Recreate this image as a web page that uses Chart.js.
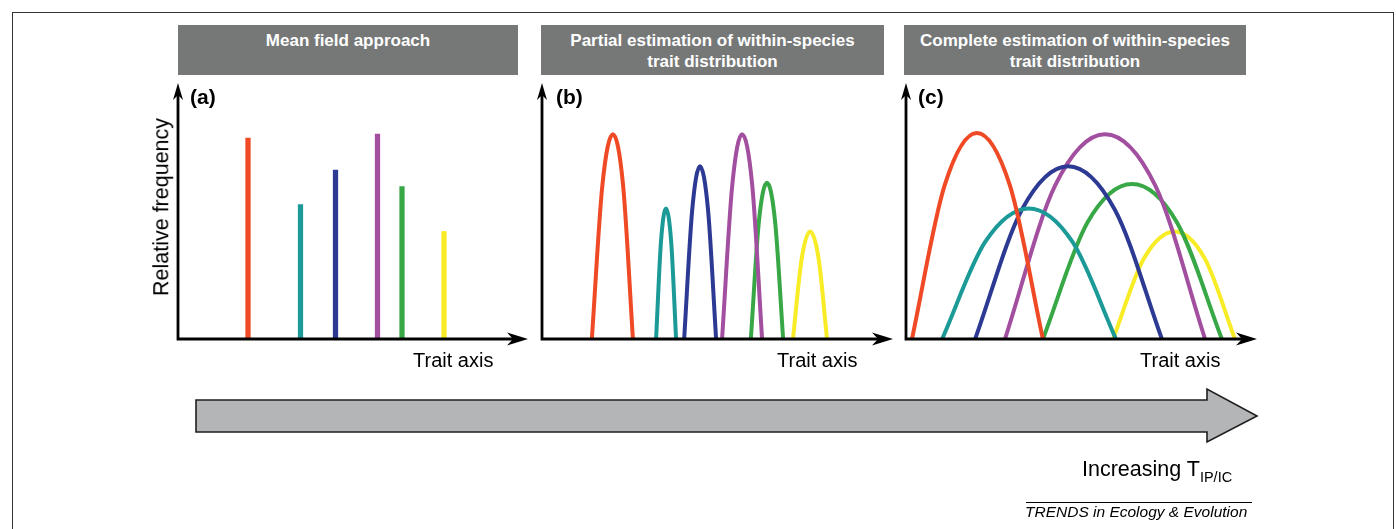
<!DOCTYPE html>
<html>
<head>
<meta charset="utf-8">
<script src="https://cdn.jsdelivr.net/npm/chart.js@4.4.1/dist/chart.umd.min.js"></script>
<style>
  body { margin: 0; width: 1396px; height: 529px; overflow: hidden; background: #fff; position: relative;
         font-family: "Liberation Sans", Arial, Helvetica, sans-serif; }
  .frame { position: absolute; left: 12px; top: 12px; width: 1380px; height: 540px; border: 1.5px solid #333; }
  .head { position: absolute; top: 25px; height: 50px; background: #767878; color: #fff; font-weight: bold;
          font-size: 17px; line-height: 20.6px; text-align: center; box-sizing: border-box; padding-top: 6.3px; }
  .lbl { position: absolute; white-space: nowrap; color: #000; line-height: 1; }
  .tag { font-weight: bold; font-size: 21px; top: 86px; }
  .trait { font-size: 20px; top: 350px; }
  canvas { position: absolute; }
</style>
</head>
<body>
<div class="frame"></div>

<div class="head" style="left:178px;width:340px;">Mean field approach</div>
<div class="head" style="left:541px;width:343px;">Partial estimation of within-species<br>trait distribution</div>
<div class="head" style="left:904px;width:342px;">Complete estimation of within-species<br>trait distribution</div>

<canvas id="chartA" width="372" height="282" style="left:168px;top:70px;"></canvas>
<canvas id="chartB" width="373" height="282" style="left:532px;top:70px;"></canvas>
<canvas id="chartC" width="373" height="282" style="left:896px;top:70px;"></canvas>

<div class="lbl tag" style="left:190px;">(a)</div>
<div class="lbl tag" style="left:556px;">(b)</div>
<div class="lbl tag" style="left:918px;">(c)</div>

<div class="lbl" style="left:162px;top:207px;font-size:21.5px;transform:translate(-50%,-50%) rotate(-90deg);">Relative frequency</div>

<div class="lbl trait" style="left:413px;">Trait axis</div>
<div class="lbl trait" style="left:777px;">Trait axis</div>
<div class="lbl trait" style="left:1140px;">Trait axis</div>

<svg style="position:absolute;left:0;top:0;" width="1396" height="529">
  <polygon points="196,400 1207,400 1207,389 1257,416 1207,442 1207,432 196,432"
           fill="#b4b5b6" stroke="#1e1e1e" stroke-width="1.6" stroke-linejoin="miter"/>
</svg>

<div class="lbl" style="left:1082px;top:459px;font-size:21.5px;">Increasing T<span style="font-size:14.5px;position:relative;top:6px;">IP/IC</span></div>
<div style="position:absolute;left:1026px;top:502px;width:226px;height:1.2px;background:#000;"></div>
<div class="lbl" style="left:1025px;top:504px;font-size:15.5px;font-style:italic;">TRENDS in Ecology &amp; Evolution</div>

<script>
// six species, same order in every panel
const species = ['Species 1', 'Species 2', 'Species 3', 'Species 4', 'Species 5', 'Species 6'];
const speciesColors = ['#EF4A25', '#1C9A97', '#2D3A93', '#A24F9F', '#38A846', '#F7EC25'];

// (a) mean trait value and relative frequency (axis units 0-100)
const traitMeans = [20, 35, 45, 57, 64, 76];
const meanFreq = [78.5, 52.5, 66, 80, 59.5, 42];

// (b) narrow within-species distributions: trait positions and frequencies read per curve
const partialX = [
  [14.2, 17.2, 20.2, 23.1, 25.9],
  [32.5, 33.9, 35.3, 36.8, 38.2],
  [40.5, 42.8, 45.0, 47.3, 49.6],
  [51.3, 54.2, 57.0, 59.9, 62.7],
  [59.5, 61.8, 64.1, 66.4, 68.7],
  [71.5, 74.0, 76.4, 78.8, 81.2]
];
const partialY = [
  [0, 60, 80, 60, 0],
  [0, 38, 51, 38, 0],
  [0, 50.5, 67.5, 50.5, 0],
  [0, 60, 80, 60, 0],
  [0, 46, 61, 46, 0],
  [0, 31.5, 42, 31.5, 0]
];

// (c) full within-species distributions
const completeX = [
  [1.7, 11.0, 20.2, 29.6, 39.0],
  [10.3, 22.6, 35.0, 47.4, 59.8],
  [19.7, 33.0, 46.2, 59.5, 72.9],
  [28.2, 42.5, 56.7, 71.0, 85.2],
  [39.0, 51.7, 64.4, 77.2, 90.0],
  [59.0, 67.8, 76.6, 85.1, 93.7]
];
const completeY = [
  [0, 60, 80.5, 60, 0],
  [0, 38, 51, 38, 0],
  [0, 50.5, 67.5, 50.5, 0],
  [0, 60, 80, 60, 0],
  [0, 45.5, 60.5, 45.5, 0],
  [0, 31.5, 42, 31.5, 0]
];

// black axes with arrow heads on the chart area edges
const arrowAxes = {
  id: 'arrowAxes',
  afterDatasetsDraw(chart) {
    const { ctx, chartArea: a } = chart;
    ctx.save();
    ctx.strokeStyle = '#000';
    ctx.fillStyle = '#000';
    ctx.lineWidth = 2.8;
    ctx.lineJoin = 'miter';
    ctx.beginPath();
    ctx.moveTo(a.left, a.top + 10);
    ctx.lineTo(a.left, a.bottom);
    ctx.lineTo(a.right - 12, a.bottom);
    ctx.stroke();
    // x arrow
    ctx.beginPath();
    ctx.moveTo(a.right, a.bottom);
    ctx.lineTo(a.right - 21, a.bottom - 6.5);
    ctx.lineTo(a.right - 15, a.bottom);
    ctx.lineTo(a.right - 21, a.bottom + 6.5);
    ctx.closePath();
    ctx.fill();
    // y arrow
    ctx.beginPath();
    ctx.moveTo(a.left, a.top);
    ctx.lineTo(a.left - 5, a.top + 17);
    ctx.lineTo(a.left, a.top + 12);
    ctx.lineTo(a.left + 5, a.top + 17);
    ctx.closePath();
    ctx.fill();
    ctx.restore();
  }
};

function baseOptions() {
  return {
    responsive: false,
    animation: false,
    events: [],
    layout: { padding: { left: 10, top: 13, right: 12, bottom: 13 } },
    plugins: { legend: { display: false }, tooltip: { enabled: false } },
    scales: {
      x: { type: 'linear', min: 0, max: 100, display: false, offset: false },
      y: { type: 'linear', min: 0, max: 100, display: false }
    }
  };
}

new Chart(document.getElementById('chartA'), {
  type: 'bar',
  data: {
    datasets: [{
      label: 'Mean trait value',
      data: traitMeans.map((x, i) => ({ x: x, y: meanFreq[i] })),
      backgroundColor: speciesColors,
      barThickness: 4.6,
      borderWidth: 0
    }]
  },
  options: baseOptions(),
  plugins: [arrowAxes]
});

function curveChart(id, xs, ys) {
  new Chart(document.getElementById(id), {
    type: 'line',
    data: {
      datasets: species.map((name, i) => ({
        label: name,
        data: xs[i].map((x, j) => ({ x: x, y: ys[i][j] })),
        borderColor: speciesColors[i],
        borderWidth: 4,
        pointRadius: 0,
        fill: false,
        cubicInterpolationMode: 'monotone'
      }))
    },
    options: baseOptions(),
    plugins: [arrowAxes]
  });
}

curveChart('chartB', partialX, partialY);
curveChart('chartC', completeX, completeY);
</script>
</body>
</html>
